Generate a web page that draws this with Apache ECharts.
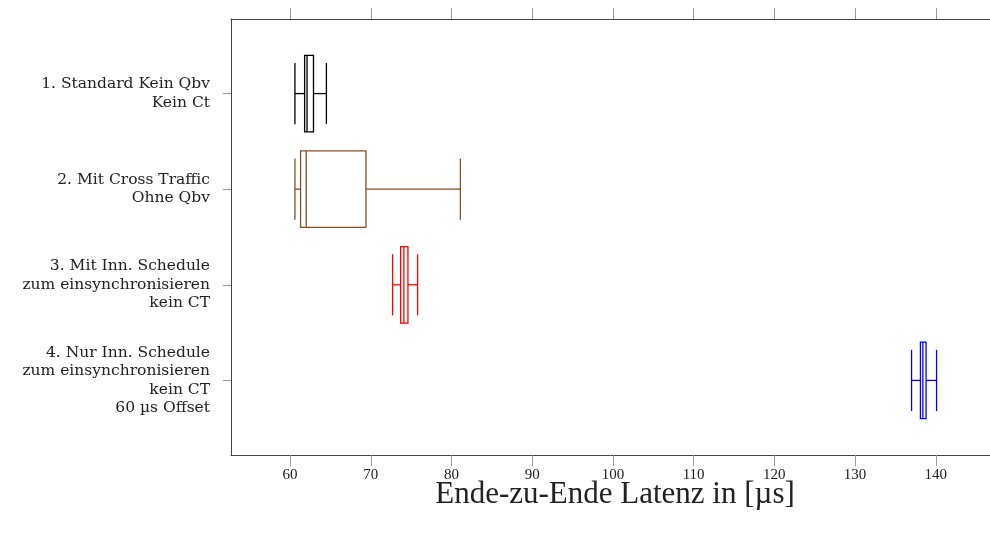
<!DOCTYPE html>
<html>
<head>
<meta charset="utf-8">
<script src="https://cdn.jsdelivr.net/npm/echarts@6/dist/echarts.min.js"></script>
<style>
  html, body { margin: 0; padding: 0; background: #ffffff; }
  #chart { width: 990px; height: 538px; }
</style>
</head>
<body>
<div id="chart"></div>
<script>
// Measurement scenarios (one box per scenario, top to bottom)
const categories = [
  '1. Standard Kein Qbv\nKein Ct',
  '2. Mit Cross Traffic\nOhne Qbv',
  '3. Mit Inn. Schedule\nzum einsynchronisieren\nkein CT',
  '4. Nur Inn. Schedule\nzum einsynchronisieren\nkein CT\n60 µs Offset'
];
const positions = [1, 2, 3, 4];

// End-to-end latency statistics in µs
const lowerWhisker = [60.6, 60.6, 72.7, 137.0];
const lowerQuartile = [61.8, 61.3, 73.7, 138.1];
const median = [62.1, 62.0, 74.1, 138.4];
const upperQuartile = [62.9, 69.4, 74.6, 138.8];
const upperWhisker = [64.5, 81.1, 75.8, 140.1];

// Axis tick labels
const xTicks = [60, 70, 80, 90, 100, 110, 120, 130, 140];

const boxColors = ['#000000', '#7f5228', '#ff0000', '#0000ff'];
const FONT = 'Liberation Serif';
const LABEL_FONT = 'DejaVu Serif';

const boxData = positions.map((p, i) => [
  p, lowerWhisker[i], lowerQuartile[i], median[i], upperQuartile[i], upperWhisker[i]
]);

const chart = echarts.init(document.getElementById('chart'), null, { renderer: 'canvas' });

const xRange = { min: 52.68, max: 146.72 };
const frameLine = { show: true, lineStyle: { color: '#444444', width: 1 } };
const outerTick = { show: true, inside: false, length: 11, lineStyle: { color: '#999999', width: 1 }, customValues: xTicks };

chart.setOption({
  animation: false,
  backgroundColor: '#ffffff',
  grid: { left: 231, right: 0, top: 19, bottom: 83, containLabel: false },
  xAxis: [
    {
      type: 'value',
      position: 'bottom',
      min: xRange.min,
      max: xRange.max,
      axisLine: frameLine,
      axisTick: outerTick,
      splitLine: { show: false },
      axisLabel: {
        customValues: xTicks,
        margin: 13,
        color: '#222222',
        fontFamily: FONT,
        fontSize: 15
      },
      name: 'Ende-zu-Ende Latenz in [µs]',
      nameLocation: 'middle',
      nameGap: 24,
      nameMoveOverlap: false,
      nameTextStyle: { fontFamily: FONT, fontSize: 31, color: '#222222', verticalAlign: 'top', padding: [0, 0, 0, 9] }
    },
    {
      type: 'value',
      position: 'top',
      min: xRange.min,
      max: xRange.max,
      axisLine: frameLine,
      axisTick: outerTick,
      splitLine: { show: false },
      axisLabel: { show: false }
    }
  ],
  yAxis: {
    type: 'value',
    inverse: true,
    min: 0.22,
    max: 4.78,
    axisLine: frameLine,
    splitLine: { show: false },
    axisTick: { show: true, inside: false, length: 8, lineStyle: { color: '#999999', width: 1 }, customValues: positions },
    axisLabel: {
      customValues: positions,
      formatter: (v) => categories[Math.round(v) - 1] || '',
      margin: 21,
      align: 'right',
      verticalAlign: 'middle',
      lineHeight: 18.5,
      color: '#222222',
      fontFamily: LABEL_FONT,
      fontSize: 15.5
    }
  },
  series: [{
    type: 'custom',
    xAxisIndex: 0,
    encode: { x: [1, 2, 3, 4, 5], y: 0 },
    data: boxData,
    renderItem: function (params, api) {
      const pos = api.value(0);
      const pLo = api.coord([api.value(1), pos]);
      const pQ1 = api.coord([api.value(2), pos]);
      const pMd = api.coord([api.value(3), pos]);
      const pQ3 = api.coord([api.value(4), pos]);
      const pHi = api.coord([api.value(5), pos]);
      const y = pMd[1];
      const boxHalf = Math.abs(api.size([0, 0.4])[1]);
      const capHalf = Math.abs(api.size([0, 0.32])[1]);
      const color = boxColors[params.dataIndex];
      const lineStyle = { stroke: color, lineWidth: 1.3, fill: null };
      return {
        type: 'group',
        children: [
          { type: 'line', shape: { x1: pLo[0], y1: y, x2: pQ1[0], y2: y }, style: lineStyle },
          { type: 'line', shape: { x1: pQ3[0], y1: y, x2: pHi[0], y2: y }, style: lineStyle },
          { type: 'line', shape: { x1: pLo[0], y1: y - capHalf, x2: pLo[0], y2: y + capHalf }, style: lineStyle },
          { type: 'line', shape: { x1: pHi[0], y1: y - capHalf, x2: pHi[0], y2: y + capHalf }, style: lineStyle },
          {
            type: 'rect',
            shape: { x: pQ1[0], y: y - boxHalf, width: pQ3[0] - pQ1[0], height: 2 * boxHalf },
            style: { stroke: color, lineWidth: 1.3, fill: '#ffffff' }
          },
          { type: 'line', shape: { x1: pMd[0], y1: y - boxHalf, x2: pMd[0], y2: y + boxHalf }, style: lineStyle }
        ]
      };
    }
  }]
});
</script>
</body>
</html>
